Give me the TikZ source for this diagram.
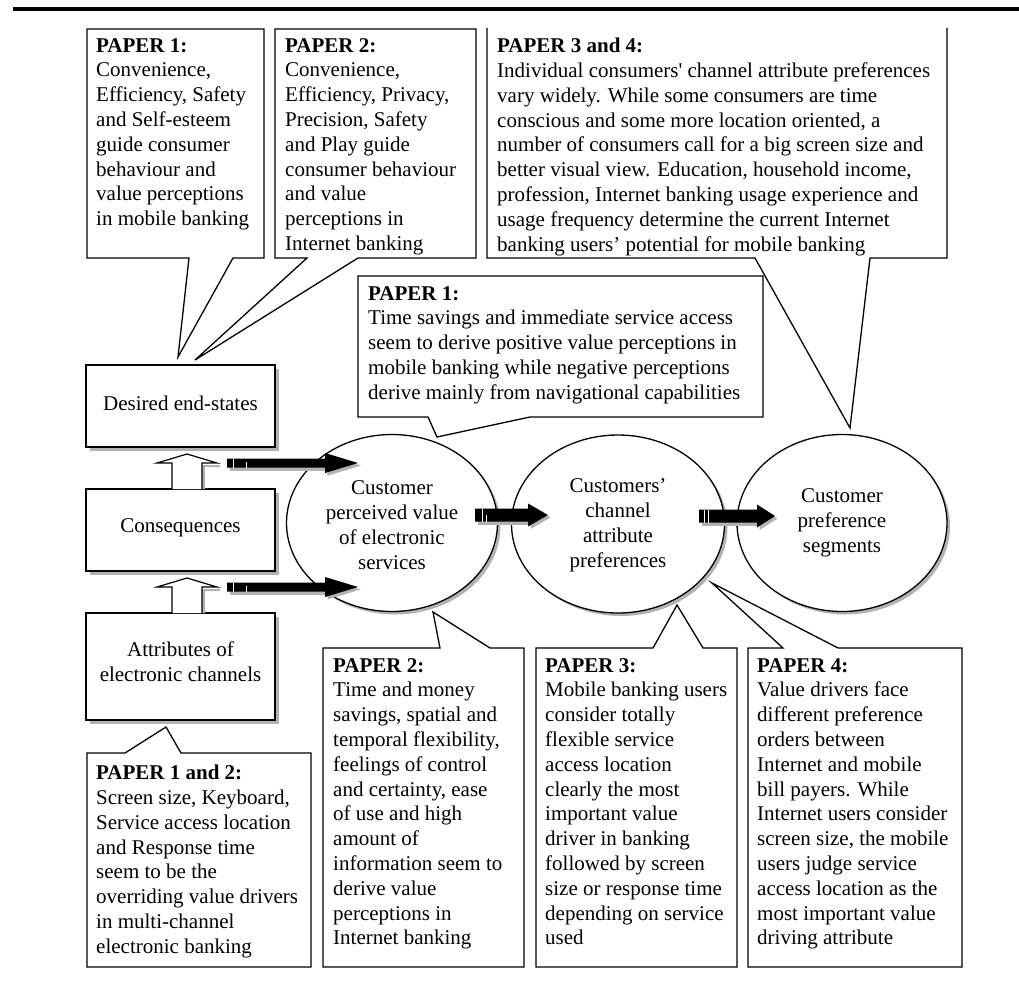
\documentclass[tikz,border=0pt]{standalone}
\usepackage{fontspec}
\setmainfont{Liberation Serif}
\usetikzlibrary{shapes.geometric,shadows}
\begin{document}
\begin{tikzpicture}[x=1pt,y=-1pt,
  txt/.style={font=\fontsize{21}{24.8}\selectfont, align=left, inner sep=0pt, anchor=north west},
  ctxt/.style={font=\fontsize{21}{25}\selectfont, align=center, inner sep=0pt},
  callout/.style={draw=black, line width=1.3pt, fill=white, line join=miter},
  mainbox/.style={draw=black, line width=1.3pt, fill=white, rectangle, inner sep=0pt,
     drop shadow={shadow xshift=3.5pt, shadow yshift=-3.5pt, fill=gray!60, opacity=1}},
  ell/.style={draw=black, line width=1.3pt, fill=white, ellipse, inner sep=0pt,
     drop shadow={shadow xshift=3pt, shadow yshift=-3pt, fill=gray!60, opacity=1}},
  hollow/.style={draw=black, line width=1.2pt, fill=white},
  shadowfill/.style={fill=gray!60, draw=none},
  blackfill/.style={fill=black, draw=none},
  stripe/.style={draw=white, line width=0.9pt}
]
\useasboundingbox (0,0) rectangle (1019,998);
\fill[white] (0,0) rectangle (1019,998);
% top rule
\draw[line width=4pt] (13,9) -- (1019,9);

% ---------- callouts (top) ----------
\path[callout] (87,29) -- (264,29) -- (264,258) -- (233,258) -- (178,357) -- (189,258) -- (87,258) -- cycle;
\node[txt] (tA) at (96,38) {\textbf{PAPER 1:}\\Convenience,\\Efficiency, Safety\\and Self-esteem\\guide consumer\\behaviour and\\value perceptions\\in mobile banking};

\path[callout] (275,29) -- (476,29) -- (476,258) -- (358,258) -- (195,360) -- (307,258) -- (275,258) -- cycle;
\node[txt] (tB) at (285,38) {\textbf{PAPER 2:}\\Convenience,\\Efficiency, Privacy,\\Precision, Safety\\and Play guide\\consumer behaviour\\and value\\perceptions in\\Internet banking};

\fill[white] (487,28) rectangle (947,258);
\path[callout] (487,28) -- (487,258) -- (755,258) -- (850,428) -- (870,258) -- (947,258) -- (947,28);
\node[txt] (tC) at (497,38) {\textbf{PAPER 3 and 4:}\\Individual consumers\textquotesingle{} channel attribute preferences\\vary widely. While some consumers are time\\conscious and some more location oriented, a\\number of consumers call for a big screen size and\\better visual view. Education, household income,\\profession, Internet banking usage experience and\\usage frequency determine the current Internet\\banking users’ potential for mobile banking};

\path[callout] (358,276) -- (763,276) -- (763,417) -- (530,417) -- (437,437) -- (428,417) -- (358,417) -- cycle;
\node[txt] (tD) at (368,286) {\textbf{PAPER 1:}\\Time savings and immediate service access\\seem to derive positive value perceptions in\\mobile banking while negative perceptions\\derive mainly from navigational capabilities};

% ---------- callouts (bottom) ----------
\path[callout] (87,753) -- (125,753) -- (166,727) -- (181,753) -- (311,753) -- (311,967) -- (87,967) -- cycle;
\node[txt] (tK) at (96,765) {\textbf{PAPER 1 and 2:}\\Screen size, Keyboard,\\Service access location\\and Response time\\seem to be the\\overriding value drivers\\in multi-channel\\electronic banking};

\path[callout] (323,648) -- (440,648) -- (433,612) -- (490,648) -- (524,648) -- (524,967) -- (323,967) -- cycle;
\node[txt] (tL) at (333,658) {\textbf{PAPER 2:}\\Time and money\\savings, spatial and\\temporal flexibility,\\feelings of control\\and certainty, ease\\of use and high\\amount of\\information seem to\\derive value\\perceptions in\\Internet banking};

\path[callout] (536,648) -- (653,648) -- (677,605) -- (703,648) -- (737,648) -- (737,967) -- (536,967) -- cycle;
\node[txt] (tM) at (545,658) {\textbf{PAPER 3:}\\Mobile banking users\\consider totally\\flexible service\\access location\\clearly the most\\important value\\driver in banking\\followed by screen\\size or response time\\depending on service\\used};

\path[callout] (748,648) -- (783,648) -- (712,583) -- (838,648) -- (962,648) -- (962,967) -- (748,967) -- cycle;
\node[txt] (tN) at (757,658) {\textbf{PAPER 4:}\\Value drivers face\\different preference\\orders between\\Internet and mobile\\bill payers. While\\Internet users consider\\screen size, the mobile\\users judge service\\access location as the\\most important value\\driving attribute};

% ---------- main boxes ----------
\node[mainbox, minimum width=189pt, minimum height=82pt] (E) at (180.5,406) {};
\node[ctxt] (Et) at (180.5,403) {Desired end-states};
\node[mainbox, minimum width=189pt, minimum height=82pt] (F) at (180.5,530) {};
\node[ctxt] (Ft) at (180.5,528) {Consequences};
\node[mainbox, minimum width=189pt, minimum height=107pt] (G) at (180.5,666.5) {};
\node[ctxt] (Gt) at (180.5,662) {Attributes of\\electronic channels};

% hollow up arrows
\fill[shadowfill] (202,465) -- (220,465) -- (220,467) -- (205,467) -- (205,489) -- (202,489) -- cycle;
\path[hollow] (172,489) -- (172,463) -- (157,463) -- (187,454) -- (217,463) -- (202,463) -- (202,489);
\fill[shadowfill] (202,589) -- (220,589) -- (220,591) -- (205,591) -- (205,613) -- (202,613) -- cycle;
\path[hollow] (172,613) -- (172,587) -- (157,587) -- (187,578) -- (217,587) -- (202,587) -- (202,613);

% ---------- ellipses ----------
\node[ell, minimum width=211pt, minimum height=177pt] (H) at (392,523) {};
\node[ctxt] (Ht) at (392,525.5) {Customer\\perceived value\\of electronic\\services};
\node[ell, minimum width=213pt, minimum height=178pt] (I) at (618,524) {};
\node[ctxt] (It) at (618,525.5) {Customers’\\channel\\attribute\\preferences};
\node[ell, minimum width=210pt, minimum height=177pt] (J) at (842,523) {};
\node[ctxt] (Jt) at (842,523) {Customer\\preference\\segments};

% ---------- black arrows ----------
% arrow 1 (upper)
\coordinate (a1s) at (227,463); \coordinate (a1e) at (358,463);
\fill[shadowfill] (229.5,465.5) -- (327.5,465.5) -- (327.5,475.5) -- (360.5,465.5) -- (327.5,455.5) -- (327.5,460.5) -- (229.5,460.5) -- (229.5,470.5) -- (327.5,470.5) -- (327.5,475.5) -- (360.5,465.5) -- cycle;
\fill[shadowfill] (229.5,462.5) rectangle (327.5,470.5);
\fill[shadowfill] (327.5,455.5) -- (360.5,465.5) -- (327.5,475.5) -- cycle;
\fill[blackfill] (227,458.5) -- (325,458.5) -- (325,453) -- (358,463) -- (325,473) -- (325,467.5) -- (227,467.5) -- cycle;
\draw[stripe] (233.5,458.5) -- (233.5,467.5);
\draw[stripe] (246.5,462) -- (246.5,467.5);
% arrow 2 (lower)
\coordinate (a2s) at (227,587); \coordinate (a2e) at (358,587);
\fill[shadowfill] (229.5,586.5) rectangle (327.5,594.5);
\fill[shadowfill] (327.5,579.5) -- (360.5,589.5) -- (327.5,599.5) -- cycle;
\fill[blackfill] (227,582.5) -- (325,582.5) -- (325,577) -- (358,587) -- (325,597) -- (325,591.5) -- (227,591.5) -- cycle;
\draw[stripe] (233.5,582.5) -- (233.5,591.5);
\draw[stripe] (246.5,586) -- (246.5,591.5);
% arrow H -> I
\fill[shadowfill] (477.5,515) rectangle (530.5,524.5);
\fill[shadowfill] (530.5,506) -- (550.5,517.5) -- (530.5,529) -- cycle;
\fill[blackfill] (475,508.5) -- (528,508.5) -- (528,503.5) -- (548,515) -- (528,526.5) -- (528,521.5) -- (475,521.5) -- cycle;
\draw[stripe] (482,508.5) -- (482,521.5);
\draw[stripe] (486,515) -- (486,521.5);
% arrow I -> J
\fill[shadowfill] (701.5,516) rectangle (759.5,525.5);
\fill[shadowfill] (759.5,507) -- (777.5,518.5) -- (759.5,530) -- cycle;
\fill[blackfill] (699,509.5) -- (757,509.5) -- (757,504.5) -- (775,516) -- (757,527.5) -- (757,522.5) -- (699,522.5) -- cycle;
\draw[stripe] (704.5,509.5) -- (704.5,522.5);
\draw[stripe] (708,509.5) -- (708,522.5);
\end{tikzpicture}
\end{document}
